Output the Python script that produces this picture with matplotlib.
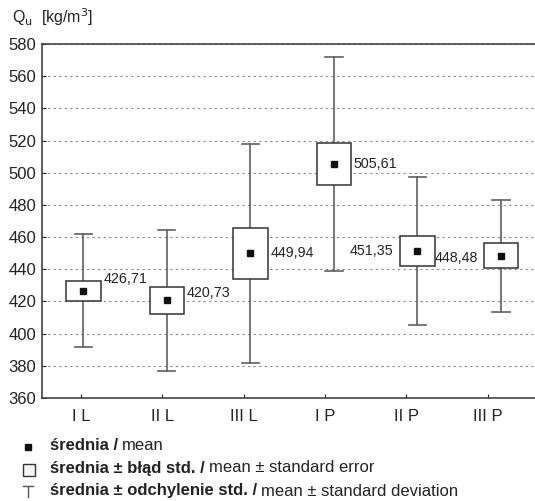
import matplotlib
matplotlib.use("Agg")
import matplotlib.pyplot as plt
from matplotlib.patches import Rectangle
from matplotlib.lines import Line2D

plt.rcParams['font.family'] = ['Liberation Sans', 'DejaVu Sans']

categories = ["I L", "II L", "III L", "I P", "II P", "III P"]
means = [426.71, 420.73, 449.94, 505.61, 451.35, 448.48]
std_err = [6.3, 8.5, 16.0, 13.0, 9.4, 8.0]
std_dev = [35.3, 43.7, 68.0, 66.5, 45.7, 34.8]
mean_labels = ["426,71", "420,73", "449,94", "505,61", "451,35", "448,48"]
yticks = [360, 380, 400, 420, 440, 460, 480, 500, 520, 540, 560, 580]

fig = plt.figure(figsize=(5.35, 5.01), dpi=100)
ax = fig.add_axes([0.0785, 0.2056, 0.925, 0.7066])

box_w = 0.41
cap_w = 0.205
edge = "#333333"
wcol = "#606060"

for i, (m, se, sd) in enumerate(zip(means, std_err, std_dev)):
    ax.plot([i, i], [m - sd, m + sd], color=wcol, lw=1.2, zorder=2)
    ax.plot([i - cap_w / 2, i + cap_w / 2], [m + sd, m + sd], color=wcol, lw=1.2, zorder=2)
    ax.plot([i - cap_w / 2, i + cap_w / 2], [m - sd, m - sd], color=wcol, lw=1.2, zorder=2)
    ax.add_patch(Rectangle((i - box_w / 2, m - se), box_w, 2 * se,
                           facecolor="white", edgecolor=edge, lw=1.1, zorder=3))
    ax.plot(i, m, marker="s", ms=5.0, color="#111111", zorder=4)

# value labels
label_spec = [
    (0, 434.0, 2, "left"),
    (1, 425.0, 2, "left"),
    (2, 449.94, 2, "left"),
    (3, 505.61, 2, "left"),
    (4, 451.35, -5, "right"),
    (5, 447.0, -4.5, "right"),
]
for i, ly, dx, ha in label_spec:
    xe = i + box_w / 2 if ha == "left" else i - box_w / 2
    ax.annotate(mean_labels[i], xy=(xe, ly), xytext=(dx, 0), textcoords="offset points",
                ha=ha, va="center", fontsize=10.3, color="#222222", zorder=5)

# category ticks are spaced slightly tighter than the marks in the original chart
tick_pos = [-0.028 + 0.9736 * k for k in range(len(categories))]
ax.set_xlim(-0.496, 5.43)
ax.set_ylim(360, 580)
ax.set_yticks(yticks)
ax.set_xticks(tick_pos)
ax.set_xticklabels(categories)
ax.tick_params(axis="both", direction="in", length=3, labelsize=12, colors="#222222")
ax.tick_params(axis="x", pad=8)
ax.tick_params(axis="y", pad=4)
for s in ["left", "bottom", "top"]:
    ax.spines[s].set_color("#444444")
    ax.spines[s].set_linewidth(1.2)
ax.spines["right"].set_visible(False)
ax.yaxis.grid(True, linestyle=(0, (2, 3)), color="#888888", lw=0.8)
ax.set_axisbelow(True)

fig.text(12 / 535, 1 - 17 / 501, r"Q$_\mathrm{u}$  [kg/m$^\mathrm{3}$]", fontsize=11.5,
         ha="left", va="center", color="#222222")

# legend
W, H = 535.0, 501.0
rows = [
    ("średnia /", "mean"),
    ("średnia ± błąd std. /", "mean ± standard error"),
    ("średnia ± odchylenie std. /", "mean ± standard deviation"),
]
row_y = [446, 468, 491]
fig.canvas.draw()
renderer = fig.canvas.get_renderer()
for (bold_txt, norm_txt), yp in zip(rows, row_y):
    t = fig.text(50 / W, 1 - yp / H, bold_txt, fontsize=12, fontweight="bold", ha="left",
                 va="center", color="#222222")
    bb = t.get_window_extent(renderer=renderer)
    fig.text((50 + bb.width + 4) / W, 1 - yp / H, norm_txt, fontsize=12, ha="left",
             va="center", color="#222222")
# legend symbols
fig.add_artist(Line2D([28 / W], [1 - 447 / H], marker="s", ms=4.0, color="#111111",
                      transform=fig.transFigure))
fig.add_artist(Rectangle((23 / W, 1 - 476 / H), 12 / W, 12 / H, transform=fig.transFigure,
                         facecolor="#f4f4f4", edgecolor="#333333", lw=1.0))
fig.add_artist(Line2D([28 / W, 28 / W], [1 - 486 / H, 1 - 497 / H], color="#555555", lw=1.0,
                      transform=fig.transFigure))
fig.add_artist(Line2D([23 / W, 33 / W], [1 - 486 / H, 1 - 486 / H], color="#555555", lw=1.0,
                      transform=fig.transFigure))

fig.savefig("out.png", dpi=100)
